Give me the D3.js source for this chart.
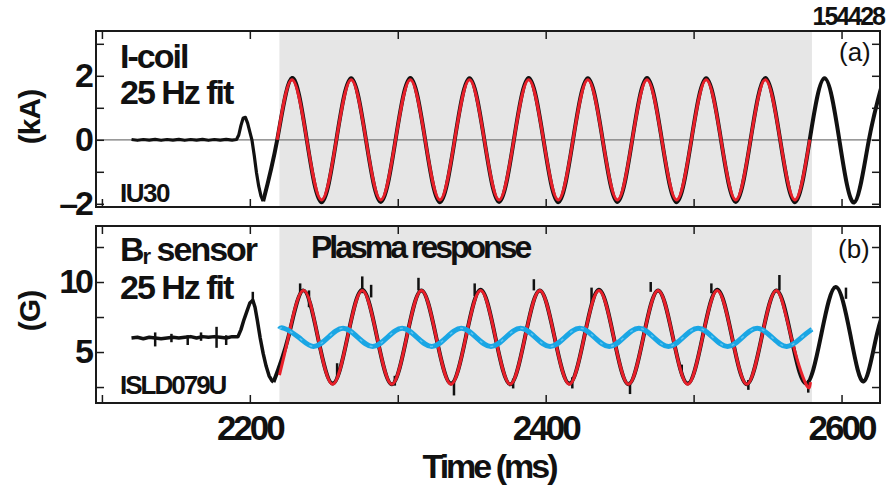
<!DOCTYPE html>
<html>
<head>
<meta charset="utf-8">
<title>I-coil and Br sensor</title>
<script src="https://d3js.org/d3.v7.min.js"></script>
<style>
  body { margin: 0; background: #fff; }
  svg { font-family: "Liberation Sans", Arial, sans-serif; }
  .frame { fill: none; stroke: #1a1a1a; stroke-width: 2; }
  .axis path { display: none; }
  .axis line { stroke: #1a1a1a; stroke-width: 1.5; }
  .axis text { font-weight: bold; font-size: 34px; letter-spacing: -3px; fill: #111; }
  .big { font-weight: bold; fill: #111; }
</style>
</head>
<body>
<svg id="chart" width="889" height="487"></svg>
<script>
// time axis
const xTicks = [2100, 2200, 2300, 2400, 2500, 2600];
const xLabels = [2200, 2400, 2600];
const shade = [2220, 2580];

// (a) I-coil, kA
const coilTicks = [-2, -1, 0, 1, 2, 3];
const coilLabels = [-2, 0, 2];
const coilPreT = [2120, 2124, 2128, 2132, 2136, 2140, 2144, 2148, 2152, 2156, 2160, 2164, 2168, 2172, 2176, 2180, 2184, 2188, 2191,
  2192.5, 2194, 2195.5, 2197, 2198.5, 2200, 2201.4, 2203, 2204.5, 2206, 2207.5, 2209];
const coilPreV = [0.01, -0.015, 0.01, -0.01, 0.015, -0.015, 0.01, -0.01, 0.015, -0.015, 0.01, -0.01, 0.015, -0.015, 0.01, -0.01, 0.015, -0.01, 0.01,
  0.15, 0.45, 0.68, 0.7, 0.52, 0.25, 0, -0.5, -1.03, -1.45, -1.75, -1.92];
const coilT = [2209, 2218.5, 2228.5, 2238.5, 2248.5, 2258.5, 2268.5, 2278.5, 2288.5, 2298.5, 2308.5,
  2318.5, 2328.5, 2338.5, 2348.5, 2358.5, 2368.5, 2378.5, 2388.5, 2398.5, 2408.5,
  2418.5, 2428.5, 2438.5, 2448.5, 2458.5, 2468.5, 2478.5, 2488.5, 2498.5, 2508.5,
  2518.5, 2528.5, 2538.5, 2548.5, 2558.5, 2568.5, 2578.5, 2588.5, 2598.5, 2608.5, 2618.5, 2628.5];
const coilV = [-1.92, 0, 1.93, 0, -1.95, 0, 1.92, 0, -1.94, 0, 1.93,
  0, -1.95, 0, 1.92, 0, -1.94, 0, 1.93, 0, -1.95,
  0, 1.92, 0, -1.94, 0, 1.93, 0, -1.95, 0, 1.92,
  0, -1.94, 0, 1.93, 0, -1.95, 0, 1.92, 0, -1.96, 0, 1.92];
const coilFitT = [2218.5, 2228.5, 2238.5, 2248.5, 2258.5, 2268.5, 2278.5, 2288.5, 2298.5, 2308.5,
  2318.5, 2328.5, 2338.5, 2348.5, 2358.5, 2368.5, 2378.5, 2388.5, 2398.5, 2408.5,
  2418.5, 2428.5, 2438.5, 2448.5, 2458.5, 2468.5, 2478.5, 2488.5, 2498.5, 2508.5,
  2518.5, 2528.5, 2538.5, 2548.5, 2558.5, 2568.5, 2578.5];
const coilFitV = [0, 1.88, 0, -1.88, 0, 1.88, 0, -1.88, 0, 1.88,
  0, -1.88, 0, 1.88, 0, -1.88, 0, 1.88, 0, -1.88,
  0, 1.88, 0, -1.88, 0, 1.88, 0, -1.88, 0, 1.88,
  0, -1.88, 0, 1.88, 0, -1.88, 0];

// (b) Br sensor, G
const probeTicks = [2.5, 5, 7.5, 10, 12.5];
const probeLabels = [5, 10];
const probePreT = [2120, 2124, 2128, 2132, 2136, 2140, 2144, 2148, 2152, 2156, 2160, 2164, 2168, 2172, 2176, 2180, 2184, 2188, 2192,
  2194, 2196, 2198, 2200, 2202, 2203.5, 2205, 2207, 2209, 2211, 2213, 2215, 2216];
const probePreV = [6.0, 6.05, 5.95, 6.05, 6.0, 5.95, 6.0, 6.05, 6.0, 6.05, 6.1, 6.0, 6.1, 6.05, 6.1, 6.05, 6.0, 6.1, 6.1,
  6.6, 7.3, 7.9, 8.5, 8.7, 8.2, 7.3, 6.0, 4.9, 4.0, 3.3, 2.95, 2.85];
const probeT = [2216, 2226, 2236, 2246, 2256, 2266, 2276, 2286, 2296, 2306,
  2316, 2326, 2336, 2346, 2356, 2366, 2376, 2386, 2396, 2406,
  2416, 2426, 2436, 2446, 2456, 2466, 2476, 2486, 2496, 2506,
  2516, 2526, 2536, 2546, 2556, 2566, 2576, 2586, 2596, 2606, 2615, 2624, 2634];
const probeV = [2.85, 6.05, 9.4, 6.05, 2.75, 6.05, 9.45, 6.05, 2.7, 6.05,
  9.4, 6.05, 2.75, 6.05, 9.45, 6.05, 2.7, 6.05, 9.4, 6.05,
  2.75, 6.05, 9.45, 6.05, 2.7, 6.05, 9.4, 6.05, 2.75, 6.05,
  9.45, 6.05, 2.7, 6.05, 9.4, 6.05, 2.75, 6.1, 9.65, 6.2, 2.9, 6.3, 9.6];
const spikeT = [2136, 2147, 2158, 2167, 2177.5, 2184, 2202, 2234, 2240, 2259, 2276, 2282, 2298, 2314, 2338, 2352,
  2378, 2392, 2418, 2431, 2457, 2471, 2492, 2512, 2537, 2558, 2577.5, 2603];
const spikeLo = [5.4, 5.7, 5.5, 5.8, 5.3, 5.5, 8.5, 9.1, 8.2, 3.2, 9.2, 8.9, 2.6, 9.4, 1.9, 9.0,
  2.4, 9.4, 2.4, 8.5, 2.0, 9.3, 3.3, 9.2, 2.3, 9.4, 2.1, 8.8];
const spikeHi = [6.4, 6.3, 6.2, 6.4, 6.8, 6.2, 9.3, 9.9, 9.4, 4.2, 10.4, 9.8, 3.3, 10.3, 2.9, 9.9,
  3.1, 10.2, 3.2, 9.6, 2.9, 10.0, 4.1, 9.9, 3.0, 10.5, 3.0, 9.6];
const fitT = [2220, 2226, 2236, 2246, 2256, 2266, 2276, 2286, 2296, 2306,
  2316, 2326, 2336, 2346, 2356, 2366, 2376, 2386, 2396, 2406,
  2416, 2426, 2436, 2446, 2456, 2466, 2476, 2486, 2496, 2506,
  2516, 2526, 2536, 2546, 2556, 2566, 2576, 2579];
const fitV = [3.35, 6.05, 9.4, 6.05, 2.7, 6.05, 9.4, 6.05, 2.7, 6.05,
  9.4, 6.05, 2.7, 6.05, 9.4, 6.05, 2.7, 6.05, 9.4, 6.05,
  2.7, 6.05, 9.4, 6.05, 2.7, 6.05, 9.4, 6.05, 2.7, 6.05,
  9.4, 6.05, 2.7, 6.05, 9.4, 6.05, 2.7, 2.85];
const respT = [2220, 2223, 2233, 2243, 2253, 2263, 2273, 2283, 2293, 2303,
  2313, 2323, 2333, 2343, 2353, 2363, 2373, 2383, 2393, 2403,
  2413, 2423, 2433, 2443, 2453, 2463, 2473, 2483, 2493, 2503,
  2513, 2523, 2533, 2543, 2553, 2563, 2573, 2580];
const respV = [6.63, 6.7, 6.05, 5.4, 6.05, 6.7, 6.05, 5.4, 6.05, 6.7,
  6.05, 5.4, 6.05, 6.7, 6.05, 5.4, 6.05, 6.7, 6.05, 5.4,
  6.05, 6.7, 6.05, 5.4, 6.05, 6.7, 6.05, 5.4, 6.05, 6.7,
  6.05, 5.4, 6.05, 6.7, 6.05, 5.4, 6.05, 6.63];

const svg = d3.select('#chart');
const left = 96, right = 880;
const x = d3.scaleLinear().domain([2096, 2626]).range([left, right]);

const pts = (t, v) => t.map((d, i) => [d, v[i]]);

function panel(id, top, bottom, yDomain, ticks, labels) {
  const y = d3.scaleLinear().domain(yDomain).range([bottom, top]);
  const g = svg.append('g');
  g.append('clipPath').attr('id', 'clip' + id)
    .append('rect').attr('x', left).attr('y', top).attr('width', right - left).attr('height', bottom - top);
  g.append('rect')
    .attr('x', x(shade[0])).attr('y', top)
    .attr('width', x(shade[1]) - x(shade[0])).attr('height', bottom - top)
    .attr('fill', '#e6e6e6');
  const plot = g.append('g').attr('clip-path', `url(#clip${id})`);
  const fmt = d => labels.includes(d) ? (d < 0 ? '\u2013' + Math.abs(d) : d) : '';
  g.append('g').attr('class', 'axis').attr('transform', `translate(${left},0)`)
    .call(d3.axisLeft(y).tickValues(ticks).tickSize(-8).tickPadding(5).tickFormat(fmt));
  g.append('g').attr('class', 'axis').attr('transform', `translate(${right},0)`)
    .call(d3.axisRight(y).tickValues(ticks).tickSize(-8).tickFormat(''));
  g.append('g').attr('class', 'axis').attr('transform', `translate(0,${top})`)
    .call(d3.axisTop(x).tickValues(xTicks).tickSize(-8).tickFormat(''));
  g.append('g').attr('class', 'axis').attr('transform', `translate(0,${bottom})`)
    .call(d3.axisBottom(x).tickValues(xTicks).tickSize(-8).tickFormat(''));
  g.append('rect').attr('class', 'frame')
    .attr('x', left).attr('y', top).attr('width', right - left).attr('height', bottom - top);
  return { y, plot, g };
}

// ---- panel (a)
const A = panel('a', 31, 207, [-2.1, 3.4], coilTicks, coilLabels);
const lineA = d3.line().x(d => x(d[0])).y(d => A.y(d[1]));
A.plot.append('line')
  .attr('x1', left).attr('x2', right).attr('y1', A.y(0)).attr('y2', A.y(0))
  .attr('stroke', '#777').attr('stroke-width', 1.3);
A.plot.append('path').datum(pts(coilPreT, coilPreV))
  .attr('d', lineA.curve(d3.curveLinear))
  .attr('fill', 'none').attr('stroke', '#111').attr('stroke-width', 3.2).attr('stroke-linejoin', 'round');
A.plot.append('path').datum(pts(coilT, coilV))
  .attr('d', lineA.curve(d3.curveNatural))
  .attr('fill', 'none').attr('stroke', '#111').attr('stroke-width', 4);
A.plot.append('path').datum(pts(coilFitT, coilFitV))
  .attr('d', lineA.curve(d3.curveNatural))
  .attr('fill', 'none').attr('stroke', '#e8202a').attr('stroke-width', 3);

// ---- panel (b)
const B = panel('b', 226, 403, [1.36, 14], probeTicks, probeLabels);
const lineB = d3.line().x(d => x(d[0])).y(d => B.y(d[1]));
B.plot.append('path').datum(pts(probePreT, probePreV))
  .attr('d', lineB.curve(d3.curveLinear))
  .attr('fill', 'none').attr('stroke', '#111').attr('stroke-width', 3.5).attr('stroke-linejoin', 'round');
B.plot.append('path').datum(pts(probeT, probeV))
  .attr('d', lineB.curve(d3.curveNatural))
  .attr('fill', 'none').attr('stroke', '#111').attr('stroke-width', 4);
B.plot.selectAll('.spike').data(spikeT).enter().append('line')
  .attr('x1', d => x(d)).attr('x2', d => x(d))
  .attr('y1', (d, i) => B.y(spikeLo[i])).attr('y2', (d, i) => B.y(spikeHi[i]))
  .attr('stroke', '#111').attr('stroke-width', 2.5);
B.plot.append('path').datum(pts(fitT, fitV))
  .attr('d', lineB.curve(d3.curveNatural))
  .attr('fill', 'none').attr('stroke', '#e8202a').attr('stroke-width', 3);
B.plot.append('path').datum(pts(respT, respV))
  .attr('d', lineB.curve(d3.curveNatural))
  .attr('fill', 'none').attr('stroke', '#1aa6e4').attr('stroke-width', 5);
B.plot.append('path').datum(pts(respT, respV))
  .attr('d', lineB.curve(d3.curveNatural))
  .attr('fill', 'none').attr('stroke', '#5cc3f0').attr('stroke-width', 1.5)
  .attr('stroke-dasharray', '3 9');

// x tick labels
svg.selectAll('.xlab').data(xLabels).enter().append('text')
  .attr('class', 'big')
  .attr('x', d => x(d)).attr('y', 440)
  .attr('text-anchor', 'middle')
  .attr('font-size', 35).attr('letter-spacing', -3)
  .text(d => d);

// texts
function label(txt, px, py, size, ls, weight, anchor) {
  return svg.append('text').attr('x', px).attr('y', py)
    .attr('font-size', size).attr('letter-spacing', ls)
    .attr('font-weight', weight || 'bold').attr('fill', '#111')
    .attr('text-anchor', anchor || 'start').text(txt);
}
label('Time (ms)', 489, 478, 34, -3, 'bold', 'middle');
label('154428', 884, 25, 25, -2, 'bold', 'end');
label('(a)', 839, 61, 26, 0, 'normal');
label('(b)', 838, 258, 26, 0, 'normal');
label('I-coil', 120, 68, 34, -2);
label('25 Hz fit', 120, 104, 34, -2);
label('IU30', 120, 202, 26, -1.5);
const br = label('B', 120, 261, 34, -2);
br.append('tspan').attr('font-size', 22).attr('dy', 3).text('r');
br.append('tspan').attr('dy', -3).text(' sensor');
label('25 Hz fit', 120, 299, 34, -2);
label('ISLD079U', 120, 394, 26, -2);
label('Plasma response', 311, 258, 32, -3);

svg.append('text').attr('transform', 'translate(40,117) rotate(-90)')
  .attr('text-anchor', 'middle').attr('class', 'big')
  .attr('font-size', 30).attr('letter-spacing', -1).text('(kA)');
svg.append('text').attr('transform', 'translate(40,311) rotate(-90)')
  .attr('text-anchor', 'middle').attr('class', 'big')
  .attr('font-size', 30).attr('letter-spacing', -1).text('(G)');
</script>
</body>
</html>
